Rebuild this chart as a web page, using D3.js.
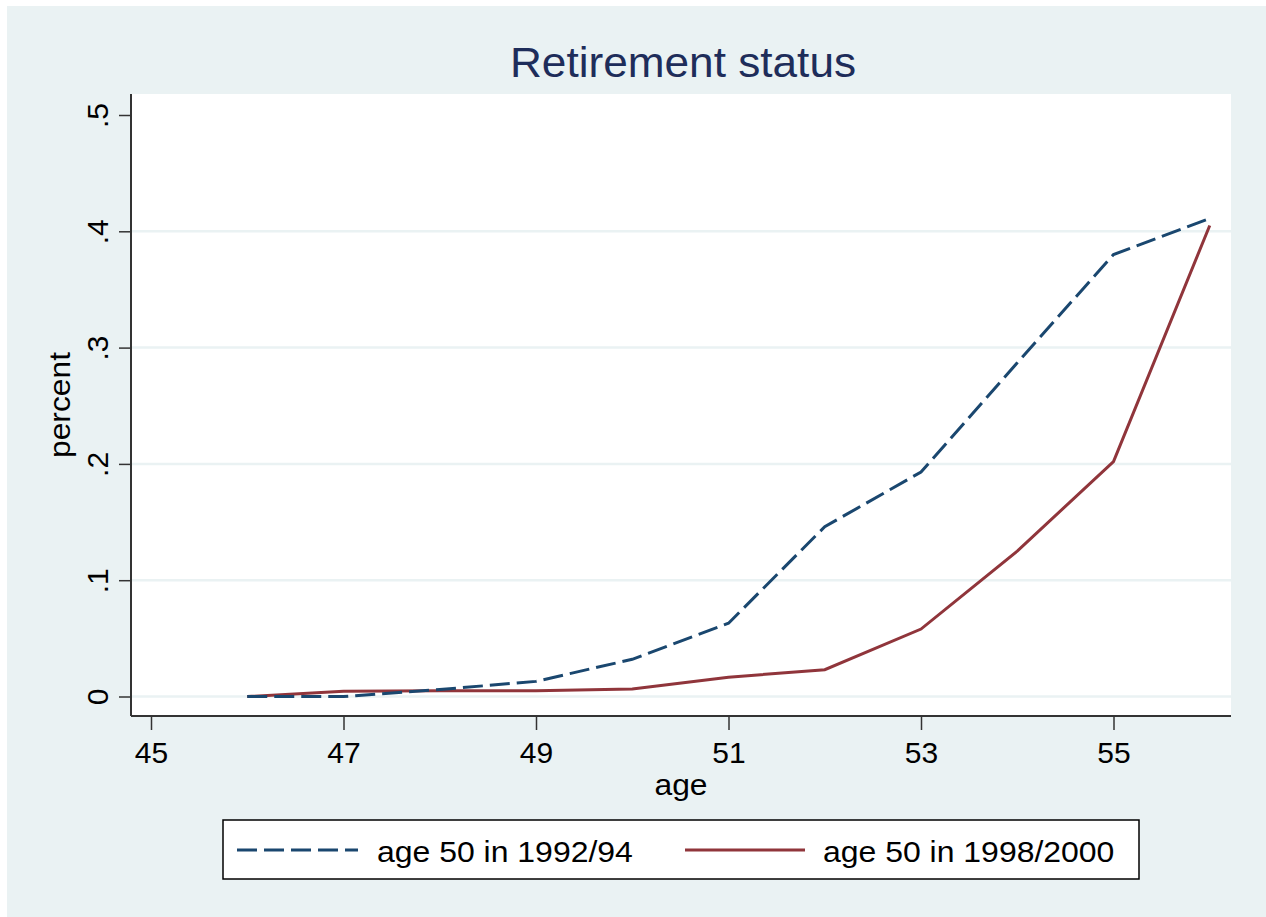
<!DOCTYPE html>
<html lang="en">
<head>
    <meta charset="UTF-8">
    <title>Retirement status</title>
    <script src="https://d3js.org/d3.v7.min.js"></script>
    <style>
        body { margin: 0; background: #fff; }
        svg { display: block; font-family: "Liberation Sans", Arial, sans-serif; }
        .grid line { stroke: #eaf2f3; stroke-width: 2.5; }
        .axis line, .axis path { stroke: #333; }
    </style>
</head>
<body>
<div id="chart"></div>
<script>

    /* values */
    var ages = [46, 47, 48, 49, 50, 51, 52, 53, 54, 55, 56];
    var cohort9294 = [0.000, 0.000, 0.006, 0.013, 0.032, 0.063, 0.146, 0.193, 0.287, 0.380, 0.411];
    var cohort9800 = [0.000, 0.0045, 0.005, 0.005, 0.0065, 0.0166, 0.023, 0.058, 0.125, 0.202, 0.405];
    var seriesNames = ["age 50 in 1992/94", "age 50 in 1998/2000"];
    var xTicks = [45, 47, 49, 51, 53, 55];
    var yTicks = [0, 0.1, 0.2, 0.3, 0.4, 0.5];
    var yTickLabels = ["0", ".1", ".2", ".3", ".4", ".5"];
    var gridTicks = [0, 0.1, 0.2, 0.3, 0.4];

    var width = 1266, height = 917;
    var plot = {left: 131, right: 1231, top: 94, bottom: 716};

    /* the stata export is a bit wider than the font */
    function stretch(sel, k) {
        sel.each(function() {
            var w = this.getComputedTextLength();
            d3.select(this).attr("textLength", w * k).attr("lengthAdjust", "spacingAndGlyphs");
        });
    }

    var svg = d3.select("#chart").append("svg")
        .attr("width", width)
        .attr("height", height);

    /* outer background */
    svg.append("rect")
        .attr("x", 7).attr("y", 6)
        .attr("width", width - 7).attr("height", height - 6)
        .attr("fill", "#eaf2f3");

    svg.append("rect")
        .attr("x", plot.left).attr("y", plot.top)
        .attr("width", plot.right - plot.left).attr("height", plot.bottom - plot.top)
        .attr("fill", "#fff");

    var x = d3.scaleLinear()
        .domain([45, 55])
        .range([151, 1113.5]);

    var y = d3.scaleLinear()
        .domain([0, 0.5])
        .range([696.5, 115]);

    /* horizontal grid */
    svg.append("g")
        .attr("class", "grid")
        .selectAll("line")
        .data(gridTicks)
        .enter().append("line")
        .attr("x1", plot.left).attr("x2", plot.right)
        .attr("y1", function(d) { return y(d); })
        .attr("y2", function(d) { return y(d); });

    /* lines */
    var rows = ages.map(function(a, i) { return {age: a, a: cohort9294[i], b: cohort9800[i]}; });

    var lineA = d3.line().x(function(d) { return x(d.age); }).y(function(d) { return y(d.a); });
    var lineB = d3.line().x(function(d) { return x(d.age); }).y(function(d) { return y(d.b); });

    svg.append("path")
        .datum(rows)
        .attr("fill", "none")
        .attr("stroke", "#90353b")
        .attr("stroke-width", 3)
        .attr("d", lineB);

    svg.append("path")
        .datum(rows)
        .attr("fill", "none")
        .attr("stroke", "#1a476f")
        .attr("stroke-width", 3)
        .attr("stroke-dasharray", "20,7")
        .attr("d", lineA);

    /* x axis */
    var gx = svg.append("g")
        .attr("class", "axis")
        .attr("transform", "translate(0," + plot.bottom + ")")
        .call(d3.axisBottom(x).tickValues(xTicks).tickSize(14).tickSizeOuter(0).tickPadding(12));
    gx.select(".domain").attr("d", "M" + plot.left + ",0H" + plot.right).attr("stroke-width", 2);
    gx.selectAll(".tick line").attr("stroke-width", 1.5);
    gx.selectAll("text").attr("font-size", 30).attr("fill", "#000").attr("font-family", null);

    /* y axis */
    var gy = svg.append("g")
        .attr("class", "axis")
        .attr("transform", "translate(" + plot.left + ",0)")
        .call(d3.axisLeft(y).tickValues(yTicks).tickSize(12).tickSizeOuter(0)
            .tickFormat(function(d, i) { return yTickLabels[i]; }));
    gy.select(".domain").attr("d", "M0," + plot.top + "V" + plot.bottom).attr("stroke-width", 2);
    gy.selectAll(".tick line").attr("stroke-width", 1.5);
    gy.selectAll("text")
        .attr("font-size", 30).attr("fill", "#000").attr("font-family", null)
        .attr("text-anchor", "middle")
        .attr("x", null).attr("dy", null)
        .attr("transform", "translate(-23,0) rotate(-90)");

    /* titles */
    svg.append("text")
        .attr("x", (plot.left + plot.right) / 2 + 2)
        .attr("y", 77)
        .attr("text-anchor", "middle")
        .attr("font-size", 43)
        .attr("fill", "#1e2d5a")
        .text("Retirement status")
        .call(stretch, 1.027);

    svg.append("text")
        .attr("x", (plot.left + plot.right) / 2)
        .attr("y", 795)
        .attr("text-anchor", "middle")
        .attr("font-size", 30)
        .text("age")
        .call(stretch, 1.06);

    svg.append("text")
        .attr("transform", "translate(70," + (plot.top + plot.bottom) / 2 + ") rotate(-90)")
        .attr("text-anchor", "middle")
        .attr("font-size", 30)
        .text("percent")
        .call(stretch, 1.06);

    /* legend */
    var legend = svg.append("g");
    legend.append("rect")
        .attr("x", 223).attr("y", 820)
        .attr("width", 916).attr("height", 59)
        .attr("fill", "#fff")
        .attr("stroke", "#000")
        .attr("stroke-width", 1.5);

    var legendItems = [
        {name: seriesNames[0], color: "#1a476f", dash: "20,7", x0: 237, x1: 358, tx: 377},
        {name: seriesNames[1], color: "#90353b", dash: null, x0: 685, x1: 805, tx: 823}
    ];

    legendItems.forEach(function(d) {
        legend.append("line")
            .attr("x1", d.x0).attr("x2", d.x1)
            .attr("y1", 850).attr("y2", 850)
            .attr("stroke", d.color)
            .attr("stroke-width", 3)
            .attr("stroke-dasharray", d.dash);
        legend.append("text")
            .attr("x", d.tx)
            .attr("y", 862)
            .attr("font-size", 30)
            .text(d.name)
            .call(stretch, 1.065);
    });

</script>
</body>
</html>
